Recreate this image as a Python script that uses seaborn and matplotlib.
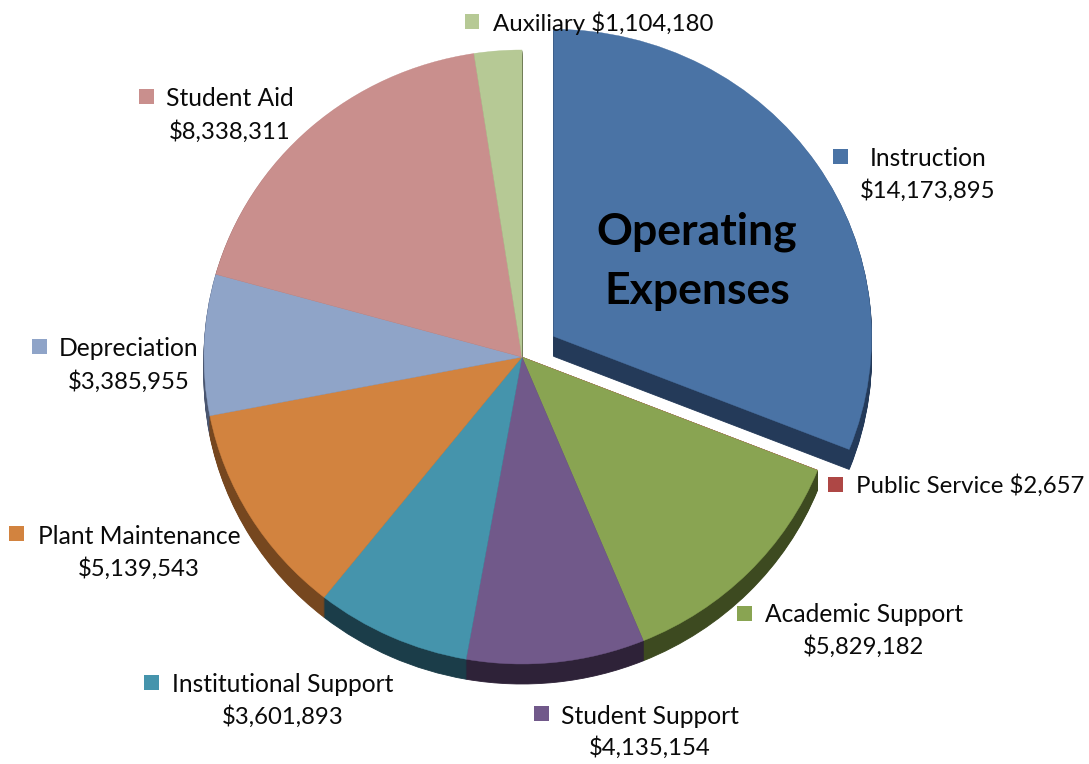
import matplotlib
matplotlib.use("Agg")
import matplotlib.pyplot as plt
import seaborn as sns

# data
categories = ["Instruction", "Public Service", "Academic Support", "Student Support",
              "Institutional Support", "Plant Maintenance", "Depreciation", "Student Aid", "Auxiliary"]
amounts = [14173895, 2657, 5829182, 4135154, 3601893, 5139543, 3385955, 8338311, 1104180]
amount_labels = ["$14,173,895", "$2,657", "$5,829,182", "$4,135,154", "$3,601,893",
                 "$5,139,543", "$3,385,955", "$8,338,311", "$1,104,180"]

top_colors = ["#4A73A5", "#AE4745", "#89A452", "#71598A", "#4594AC",
              "#D2833F", "#8FA4C8", "#C98F8D", "#B6C995"]
rim_colors = ["#243A59", "#5A2322", "#3D4A20", "#2E2238", "#1B3D49",
              "#76471F", "#4A5670", "#6A4645", "#5F6A47"]

# label layout, pixels in the 1089x764 picture
# key x, key y, text x, first line y, second line y (None = one line)
layout = {
    "Instruction": (840, 156, 928, 158, 191),
    "Public Service": (835, 484, 970, 486, None),
    "Academic Support": (744, 613, 864, 615, 647),
    "Student Support": (541, 713, 650, 716, 748),
    "Institutional Support": (151, 682, 283, 684, 717),
    "Plant Maintenance": (16, 533, 139, 536, 569),
    "Depreciation": (39, 346, 129, 349, 382),
    "Student Aid": (146, 96, 230, 99, 132),
    "Auxiliary": (472, 21, 603, 23, None),
}

W, H = 1089, 764
CX, CY = 522, 357   # pie centre in pixels
RX, RY = 318, 307   # pie radii in pixels
DEPTH = 20          # thickness of the rim in pixels

sns.set_theme(style="white")
plt.rcParams["font.family"] = ["Lato", "DejaVu Sans"]

fig = plt.figure(figsize=(W / 100, H / 100), dpi=100)
ax = fig.add_axes([0, 0, 1, 1])

explode = [0.12] + [0] * (len(amounts) - 1)

# stack of darker pies gives the 3d rim
for d in range(DEPTH, 0, -1):
    wedges, _ = ax.pie(amounts, explode=explode, colors=sns.color_palette(rim_colors), startangle=90,
                       counterclock=False, center=(0, -d / RY), wedgeprops={"linewidth": 0.6})
    for w in wedges:
        w.set_edgecolor(w.get_facecolor())

wedges, _ = ax.pie(amounts, explode=explode, colors=sns.color_palette(top_colors), startangle=90,
                   counterclock=False, wedgeprops={"linewidth": 0.3})
for w in wedges:
    w.set_edgecolor(w.get_facecolor())

# pie forces equal aspect, the original is slightly squashed
ax.set_aspect("auto")
ax.set_xlim(-CX / RX, (W - CX) / RX)
ax.set_ylim((CY - H) / RY, CY / RY)
ax.axis("off")

KEY = 15
for name, amount, color in zip(categories, amount_labels, top_colors):
    kx, ky, tx, y1, y2 = layout[name]
    fig.patches.append(plt.Rectangle(((kx - KEY / 2) / W, 1 - (ky + KEY / 2) / H), KEY / W, KEY / H,
                                     transform=fig.transFigure, facecolor=color, edgecolor="none"))
    if y2 is None:
        fig.text(tx / W, 1 - y1 / H, f"{name} {amount}", ha="center", va="center",
                 fontsize=17.3, color="#0a0a0a")
    else:
        fig.text(tx / W, 1 - y1 / H, name, ha="center", va="center", fontsize=17.7, color="#0a0a0a")
        fig.text(tx / W, 1 - y2 / H, amount, ha="center", va="center", fontsize=17.2, color="#0a0a0a")

fig.text(697 / W, 1 - 232 / H, "Operating", ha="center", va="center", fontsize=32,
         fontweight="bold", color="black")
fig.text(697 / W, 1 - 291 / H, "Expenses", ha="center", va="center", fontsize=32,
         fontweight="bold", color="black")

fig.savefig("out.png", dpi=100, facecolor="white")
